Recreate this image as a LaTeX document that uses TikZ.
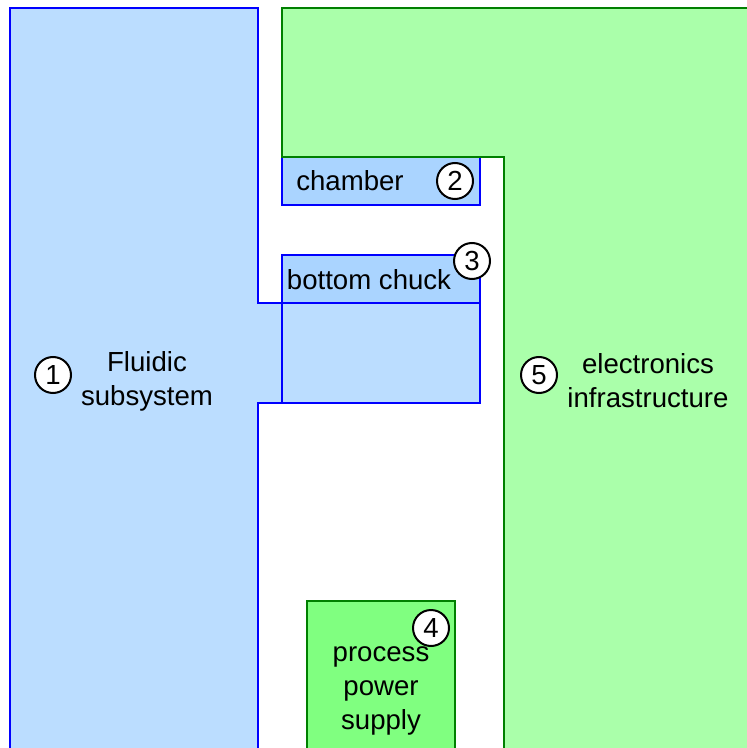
\documentclass[tikz,border=0pt]{standalone}
\usepackage{fontspec}
\setmainfont{Liberation Sans}
\definecolor{fluidblue}{HTML}{BBDDFF}
\definecolor{chuckblue}{HTML}{AAD4FF}
\definecolor{elecgreen}{HTML}{AAFFAA}
\definecolor{supplygreen}{HTML}{80FF80}
\definecolor{edgegreen}{HTML}{008000}
\tikzset{
    marker/.style={circle, draw=black, fill=white, line width=1pt, minimum size=18pt, inner sep=0pt, font=\fontsize{13.8}{17}\selectfont},
    boxtext/.style={align=center, font=\fontsize{13.8}{17}\selectfont},
    blueedge/.style={draw=blue, line width=1.2pt},
    greenedge/.style={draw=edgegreen, line width=1pt},
}
\begin{document}
\begin{tikzpicture}[x=0.5pt, y=-0.5pt]
    \useasboundingbox (0, 0) rectangle (747, 748);
    \clip (0, 0) rectangle (747, 748);

    % fluidic subsystem
    \filldraw[fill=fluidblue, blueedge] (10, 8) -- (258, 8) -- (258, 303) -- (282, 303)
        -- (282, 403) -- (258, 403) -- (258, 760) -- (10, 760) -- cycle;

    % bottom chuck
    \fill[fluidblue] (282, 303) rectangle (480, 403);
    \fill[chuckblue] (282, 255) rectangle (480, 303);
    \draw[blueedge] (282, 255) rectangle (480, 403);
    \draw[blueedge] (282, 303) to (480, 303);

    % chamber
    \filldraw[fill=chuckblue, blueedge] (282, 157) rectangle (480, 205);

    % electronics infrastructure
    \filldraw[fill=elecgreen, greenedge] (282, 8) -- (760, 8) -- (760, 760) -- (504, 760)
        -- (504, 157) -- (282, 157) -- cycle;

    % process power supply
    \filldraw[fill=supplygreen, greenedge] (307, 601) rectangle (455, 760);

    \node[marker] (m1) at (53, 375) {1};
    \node[marker] (m2) at (455, 181) {2};
    \node[marker] (m3) at (472, 261) {3};
    \node[marker] (m4) at (431, 628) {4};
    \node[marker] (m5) at (539, 375) {5};

    \node[boxtext] (fluidic) at (147, 381) {Fluidic\\subsystem};
    \node[boxtext] (chamber) at (350, 181) {chamber};
    \node[boxtext] (chuck) at (369, 280) {bottom chuck};
    \node[boxtext] (electronics) at (648, 381) {electronics\\infrastructure};
    \node[boxtext] (supply) at (381, 691) {process\\power\\supply};
\end{tikzpicture}
\end{document}
